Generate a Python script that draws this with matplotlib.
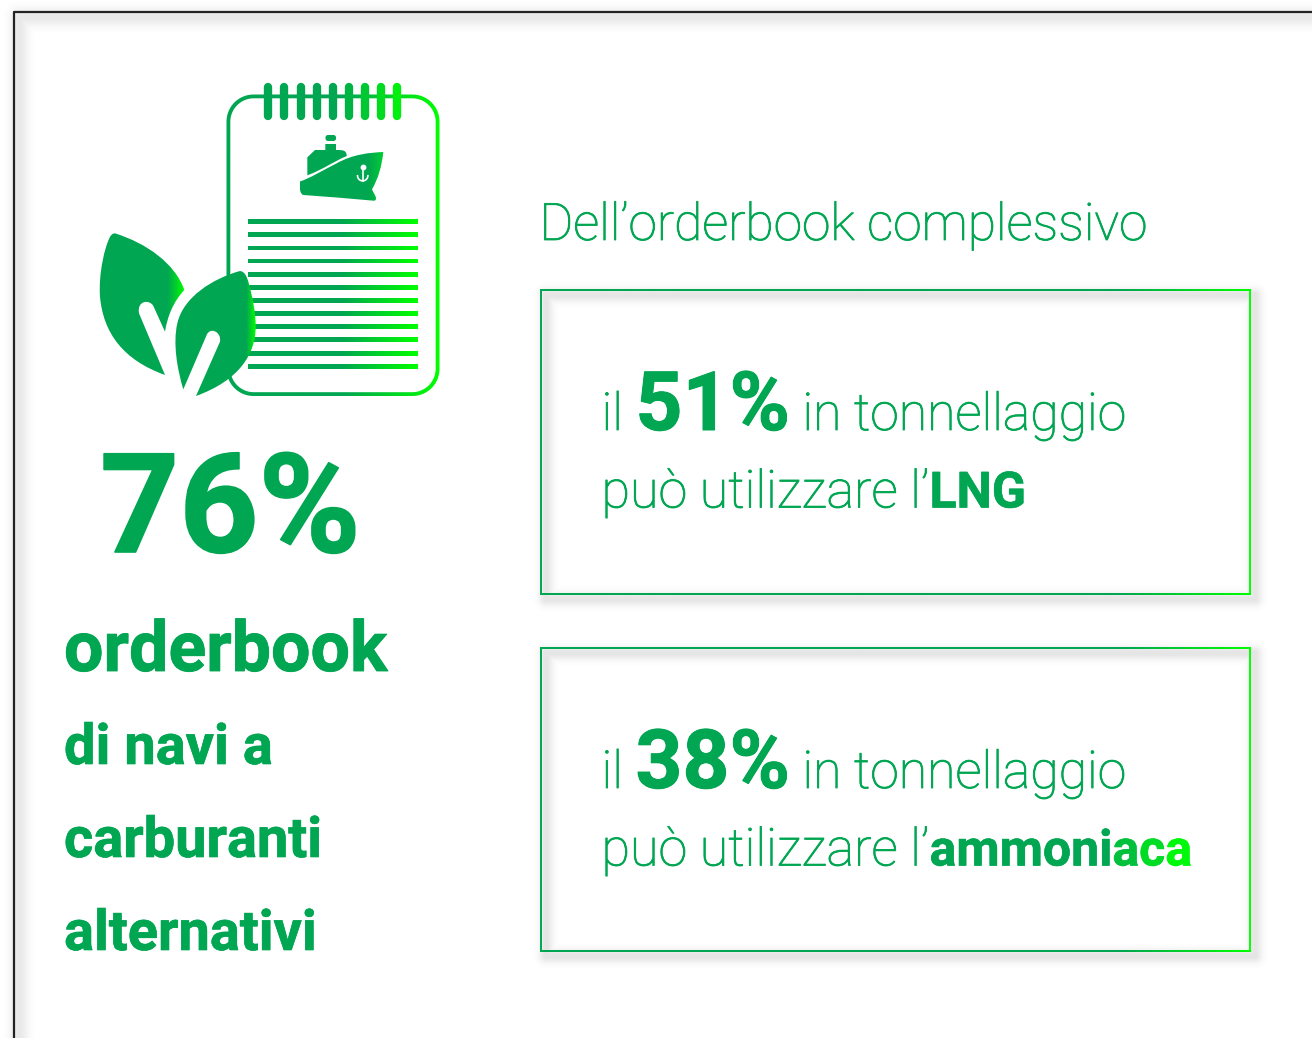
import numpy as np
import matplotlib
matplotlib.use("Agg")
import matplotlib.pyplot as plt
import matplotlib.patheffects as pe
from matplotlib.path import Path
from matplotlib.patches import PathPatch
from matplotlib.colors import LinearSegmentedColormap

# Text content
headline = "76%"
left_lines = ["orderbook", "di navi a", "carburanti", "alternativi"]
right_title = "Dell’orderbook complessivo"
box_values = ["51%", "38%"]
box_labels = ["LNG", "ammoniaca"]

GREEN = "#00A651"
LIME = "#00FF00"
FONT = "Roboto"

cmap = LinearSegmentedColormap.from_list("g", [(0, GREEN), (0.55, GREEN), (1, LIME)])
box_cmap = LinearSegmentedColormap.from_list("b", [(0, GREEN), (0.82, GREEN), (1, LIME)])

fig = plt.figure(figsize=(13.12, 10.38), dpi=100)
ax = fig.add_axes([0, 0, 1, 1])
ax.set_xlim(0, 1312)
ax.set_ylim(1038, 0)
ax.axis("off")


def outline_shadow(x0, y0, x1, y1, off, sigma, peak):
    # soft shadow of a rectangle outline, returned as an alpha map
    yy, xx = np.mgrid[0:1038, 0:1312] + 0.5
    cx, cy = (x0 + x1) / 2 + off, (y0 + y1) / 2 + off
    dx = np.abs(xx - cx) - (x1 - x0) / 2
    dy = np.abs(yy - cy) - (y1 - y0) / 2
    inside = np.maximum(dx, dy)
    outside = np.hypot(np.maximum(dx, 0), np.maximum(dy, 0))
    d = np.where(inside < 0, -inside, outside)
    return peak * np.exp(-(d / sigma) ** 2)


def grad_rect(x0, x1, y0, y1, cm=cmap, zorder=3):
    ax.imshow(np.linspace(0, 1, 256).reshape(1, -1), cmap=cm, vmin=0, vmax=1,
              extent=[x0, x1, y1, y0], aspect="auto", zorder=zorder,
              interpolation="bilinear")
    ax.set_xlim(0, 1312)
    ax.set_ylim(1038, 0)


def grad_fill(path, x0, x1, y0, y1, cm=cmap, zorder=3):
    im = ax.imshow(np.linspace(0, 1, 256).reshape(1, -1), cmap=cm, vmin=0, vmax=1,
                   extent=[x0, x1, y1, y0], aspect="auto", zorder=zorder,
                   interpolation="bilinear")
    patch = PathPatch(path, transform=ax.transData, fc="none", ec="none")
    ax.add_patch(patch)
    im.set_clip_path(patch)
    ax.set_xlim(0, 1312)
    ax.set_ylim(1038, 0)


def round_rect(x0, y0, x1, y1, r, reverse=False):
    t = np.linspace(0, np.pi / 2, 16)
    pts = []
    for cx, cy, a in [(x1 - r, y0 + r, -np.pi / 2), (x1 - r, y1 - r, 0),
                      (x0 + r, y1 - r, np.pi / 2), (x0 + r, y0 + r, np.pi)]:
        pts.append(np.c_[cx + r * np.cos(t + a), cy + r * np.sin(t + a)])
    pts = np.vstack(pts)
    return pts[::-1] if reverse else pts


def zoom_path(parts):
    # parts are given in crop coordinates of the icon (3x, origin 90,70)
    verts, codes = [], []
    for p in parts:
        if len(p) == 2:
            verts.append(p)
            codes.append(Path.MOVETO if not verts[:-1] else Path.LINETO)
        else:
            verts += [p[:2], p[2:4], p[4:6]]
            codes += [Path.CURVE4] * 3
    verts.append(verts[0])
    codes.append(Path.CLOSEPOLY)
    v = np.array(verts, dtype=float) / 3 + [90, 70]
    return Path(v, codes)


def runs(x, y, parts):
    # parts: (text, size, weight, colour) placed one after the other on a baseline
    r = fig.canvas.get_renderer()
    for s, size, weight, color in parts:
        t = ax.text(x, y, s, fontsize=size, fontweight=weight, color=color,
                    family=FONT, va="baseline", ha="left", zorder=5)
        # trailing spaces are not measured, so use advance of the text with a bar
        t.set_text(s + "|")
        w1 = t.get_window_extent(r).width
        t.set_text("|")
        w2 = t.get_window_extent(r).width
        t.set_text(s)
        # reference type is heavier than the installed cuts
        stroke = 0.6 if weight == "light" else size * 0.012
        t.set_path_effects([pe.withStroke(linewidth=stroke, foreground=color)])
        x += w1 - w2


# Shadows of the frame and the two boxes
sh = outline_shadow(14, 12, 1500, 1300, 5, 9, 0.11)
sh = np.maximum(sh, outline_shadow(541, 290, 1250, 594, 5, 7, 0.13))
sh = np.maximum(sh, outline_shadow(541, 648, 1250, 951, 5, 7, 0.13))
rgba = np.zeros(sh.shape + (4,))
rgba[..., :3] = 0.2
rgba[..., 3] = sh
ax.imshow(rgba, extent=[0, 1312, 1038, 0], aspect="auto", zorder=1)
ax.set_xlim(0, 1312)
ax.set_ylim(1038, 0)

# Outer frame
ax.plot([14, 14, 1312], [1038, 12, 12], color="#222222", lw=1.6, zorder=2)

# Notebook
outer = round_rect(226.5, 94.5, 439.5, 396, 27)
inner = round_rect(230.3, 98.3, 435.7, 392.2, 23.5, reverse=True)
nb_verts = np.vstack([outer, outer[:1], inner, inner[:1]])
nb_codes = ([Path.MOVETO] + [Path.LINETO] * (len(outer) - 1) + [Path.CLOSEPOLY]) * 2
grad_fill(Path(nb_verts, nb_codes), 226, 440, 90, 400, zorder=2)

# Rings
ring_x = np.linspace(268.3, 397.3, 9)
for i, rx in enumerate(ring_x):
    c = cmap(0.12 + 0.8 * i / 8)
    ax.plot([rx, rx], [87, 116], color=c, lw=6, solid_capstyle="round", zorder=3)

# Text lines on the page
page_y = [221.3, 234.3, 248, 261, 274.3, 287.3, 300.3, 313.3, 326.3, 340, 353.3, 366.3]
page_h = [5, 5, 4, 4, 5, 5, 5, 5, 5, 5, 5, 5]
for py, ph in zip(page_y, page_h):
    grad_rect(248, 418, py - ph / 2, py + ph / 2)

# Ship
hull = zoom_path([(628, 335),
                  (660, 325, 700, 300, 740, 280), (790, 252, 840, 248, 880, 246),
                  (875, 290, 865, 325, 846, 358), (850, 368, 858, 378, 858, 385),
                  (858, 390, 855, 393, 850, 392), (780, 385, 700, 380, 640, 375),
                  (630, 372, 628, 355, 628, 335)])
grad_fill(hull, 300, 385, 130, 205, cm=LinearSegmentedColormap.from_list(
    "h", [(0, GREEN), (0.8, GREEN), (1, "#00D030")]), zorder=3)
cabin = zoom_path([(652, 262), (675, 240), (706, 240), (706, 222), (738, 222), (738, 240),
                   (758, 240, 770, 240, 770, 258), (730, 275, 700, 298, 652, 316)])
ax.add_patch(PathPatch(cabin, fc=GREEN, ec="none", zorder=3))
ax.add_patch(PathPatch(Path(round_rect(325.5, 135, 336, 141, 2.5)), fc=GREEN, ec="none", zorder=3))
# Anchor
ax.plot([362.7, 362.7], [168, 181], color="white", lw=1.2, zorder=4)
ax.plot([362.7], [167], "o", ms=3.2, color="white", zorder=4)
arc = np.linspace(0.05, np.pi - 0.05, 30)
ax.plot(362.7 + 5.2 * np.cos(arc), 175.5 + 5.4 * np.sin(arc), color="white", lw=1.2, zorder=4)

# Leaves
leaf_l = zoom_path([(75, 490),
                    (170, 520, 255, 580, 283, 660), (250, 695, 232, 740, 225, 785),
                    (190, 708), (180, 688, 140, 690, 147, 730),
                    (225, 915), (100, 870, 40, 790, 30, 680),
                    (25, 610, 45, 530, 58, 505), (62, 495, 68, 490, 75, 490)])
grad_fill(leaf_l, 99, 185, 230, 380, zorder=4, cm=LinearSegmentedColormap.from_list(
    "ll", [(0, GREEN), (0.8, GREEN), (1, LIME)]))
leaf_r = zoom_path([(450, 603),
                    (465, 605, 470, 620, 475, 635), (490, 690, 497, 730, 497, 770),
                    (497, 850, 450, 930, 318, 978),
                    (390, 815), (395, 785, 360, 770, 350, 795),
                    (280, 958), (262, 900, 248, 820, 262, 760),
                    (280, 680, 370, 625, 450, 603)])
grad_fill(leaf_r, 175, 256, 260, 400, zorder=4, cm=LinearSegmentedColormap.from_list(
    "lr", [(0, GREEN), (0.88, GREEN), (1, LIME)]))

# Left column
runs(100, 552, [(headline, 99.5, "bold", GREEN)])
runs(64, 671, [(left_lines[0], 50.3, "bold", GREEN)])
for s, by in zip(left_lines[1:], [764, 857, 950]):
    runs(64, by, [(s, 40.3, "bold", GREEN)])

# Right column
runs(539.5, 240, [(right_title, 37.1, "light", GREEN)])

for y0, y1, val, lab in zip([290, 648], [594, 951], box_values, box_labels):
    grad_rect(540, 1251, y0 - 1, y0 + 1, cm=box_cmap)
    grad_rect(540, 1251, y1 - 1, y1 + 1, cm=box_cmap)
    ax.plot([541, 541], [y0, y1], color=GREEN, lw=1.4, zorder=3)
    ax.plot([1250, 1250], [y0, y1], color=LIME, lw=1.4, zorder=3)
    runs(601.5, y0 + 140, [("il ", 37.5, "light", GREEN), (val, 59, "bold", GREEN),
                           (" in tonnellaggio", 37.3, "light", GREEN)])
    base = y0 + 217.5
    if lab == "LNG":
        runs(601.5, base, [("può utilizzare l’", 37.5, "light", GREEN), (lab, 36, "bold", GREEN)])
    else:
        runs(601.5, base, [("può utilizzare l’", 37.5, "light", GREEN), ("ammoni", 36, "bold", GREEN),
                           ("a", 36, "bold", "#00C03C"), ("c", 36, "bold", "#00DC24"),
                           ("a", 36, "bold", "#00F80A")])

fig.savefig("out.png", dpi=100, facecolor="white")
